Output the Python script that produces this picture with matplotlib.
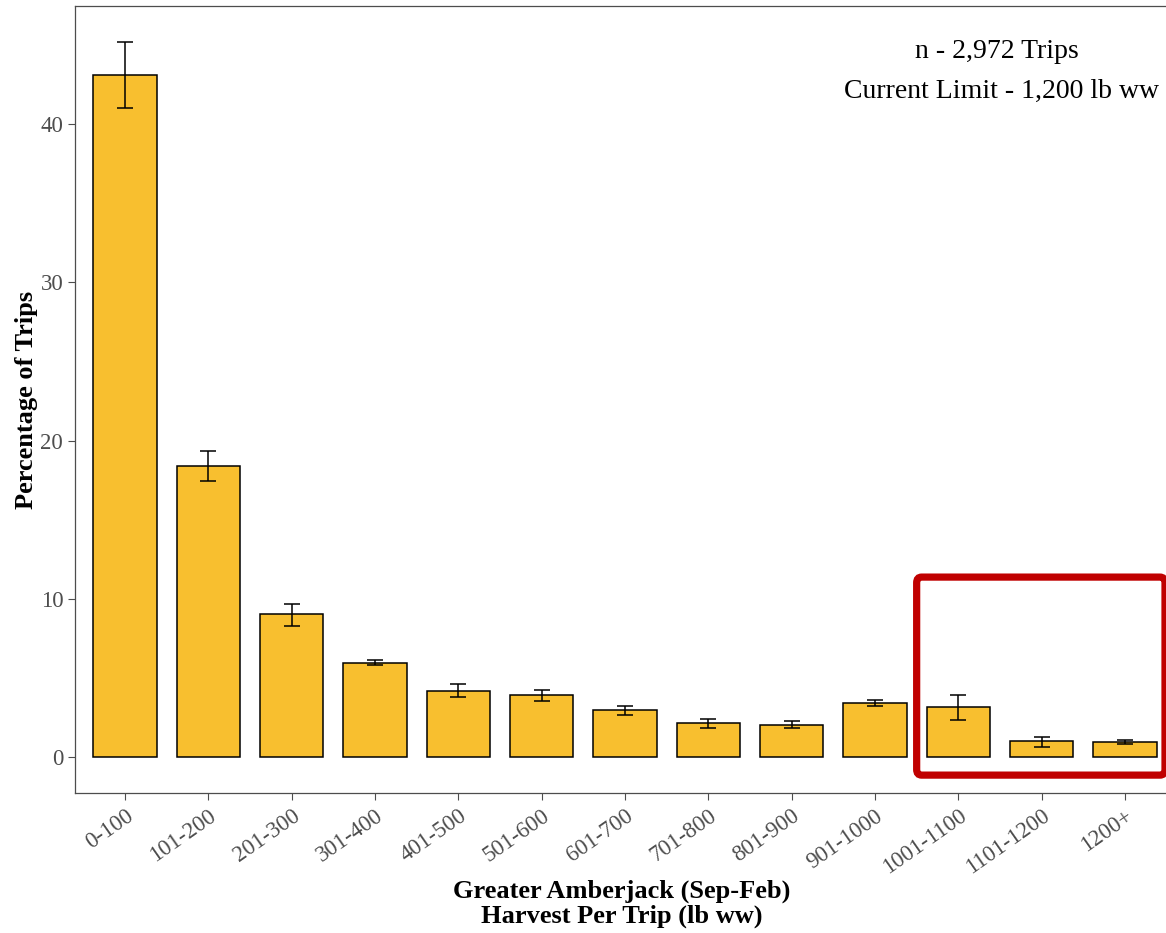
import matplotlib
matplotlib.use("Agg")
import matplotlib.pyplot as plt
from matplotlib.patches import FancyBboxPatch
import numpy as np

# harvest bins and trip percentages (with error bar limits)
bins = ['0-100', '101-200', '201-300', '301-400', '401-500', '501-600',
        '601-700', '701-800', '801-900', '901-1000', '1001-1100',
        '1101-1200', '1200+']
pct = [43.08, 18.41, 9.02, 5.97, 4.18, 3.91, 2.98, 2.14, 2.06, 3.42, 3.15, 1.01, 0.99]
err_lo = [41.0, 17.47, 8.30, 5.80, 3.80, 3.57, 2.65, 1.85, 1.85, 3.22, 2.33, 0.67, 0.82]
err_hi = [45.2, 19.36, 9.67, 6.16, 4.60, 4.24, 3.26, 2.44, 2.27, 3.64, 3.95, 1.28, 1.09]

plt.rcParams['font.family'] = ['Liberation Serif', 'DejaVu Serif']

fig = plt.figure(figsize=(11.66, 9.33), dpi=100)
ax = fig.add_axes([75/1166, 1 - 793/933, 1100/1166, 787/933])

x = np.arange(len(bins))
pct = np.array(pct)
yerr = [pct - np.array(err_lo), np.array(err_hi) - pct]

ax.bar(x, pct, width=0.76, color='#F8BF2F', edgecolor='black', linewidth=1.1, zorder=2)
ax.errorbar(x, pct, yerr=yerr, fmt='none', ecolor='black', elinewidth=1.1,
            capsize=6, capthick=1.1, zorder=3)

ax.set_xlim(-0.6, len(bins) - 0.4)
ax.set_ylim(-2.26, 47.46)
ax.set_xticks(x)
ax.set_xticklabels(bins, rotation=35, ha='right', rotation_mode='anchor')
ax.set_yticks([0, 10, 20, 30, 40])
ax.tick_params(axis='both', colors='#4D4D4D', labelsize=16.5, length=5, width=0.8)
ax.tick_params(axis='x', pad=4)

for s in ax.spines.values():
    s.set_color('#4D4D4D')
    s.set_linewidth(0.9)

ax.set_ylabel('Percentage of Trips', fontsize=19, fontweight='bold', labelpad=2)
ax.set_xlabel('Greater Amberjack (Sep-Feb)\nHarvest Per Trip (lb ww)',
              fontsize=19, fontweight='bold', linespacing=1.1, va='bottom')
ax.xaxis.set_label_coords(622/1166, 1 - 928/933, transform=fig.transFigure)

fig.text(997/1166, 1 - 58/933, 'n - 2,972 Trips', ha='center', va='baseline', fontsize=20)
fig.text(1002/1166, 1 - 98/933, 'Current Limit - 1,200 lb ww', ha='center',
         va='baseline', fontsize=20)

# red highlight box around the upper bins
box = FancyBboxPatch((9.5, -1.13), 2.98, 12.51,
                     boxstyle='round,pad=0,rounding_size=0.06',
                     fill=False, edgecolor='#C00000', linewidth=5.2,
                     clip_on=False, zorder=4, mutation_aspect=6)
ax.add_patch(box)

fig.savefig('out.png', dpi=100)
